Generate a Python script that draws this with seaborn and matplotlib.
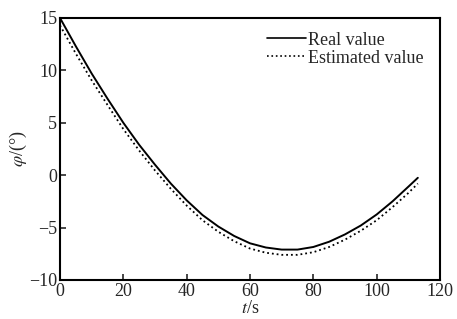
import numpy as np
import pandas as pd
import matplotlib
matplotlib.use('Agg')
import matplotlib.pyplot as plt
import seaborn as sns

t = [0, 5, 10, 15, 20, 25, 30, 35, 40, 45, 50, 55, 60, 65, 70, 75,
     80, 85, 90, 95, 100, 105, 110, 113]
real = [15, 12.3, 9.7, 7.3, 5.0, 2.9, 1.0, -0.8, -2.4, -3.8, -4.9, -5.8,
        -6.5, -6.9, -7.1, -7.1, -6.85, -6.35, -5.65, -4.8, -3.75, -2.5, -1.1, -0.25]
est = [14.3, 11.6, 9.05, 6.7, 4.4, 2.35, 0.45, -1.3, -2.9, -4.3, -5.4, -6.3,
       -7.0, -7.4, -7.6, -7.6, -7.35, -6.85, -6.15, -5.3, -4.3, -3.05, -1.7, -0.8]

df = pd.DataFrame({'t': t * 2,
                   'phi': real + est,
                   'kind': ['Real value'] * len(t) + ['Estimated value'] * len(t)})

sns.set_style('ticks')
plt.rcParams['font.family'] = ['Liberation Serif', 'DejaVu Serif']
plt.rcParams['mathtext.fontset'] = 'stix'

fig = plt.figure(figsize=(4.57, 3.19), dpi=100)
ax = fig.add_axes([0.1313, 0.1223, 0.8315, 0.8213])

sns.lineplot(data=df, x='t', y='phi', hue='kind', style='kind',
             palette=['black', 'black'], dashes=[(None, None), (1, 0.6)],
             linewidth=1.4, ax=ax)
ax.lines[1].set_linestyle(':')
ax.lines[1].set_linewidth(1.3)

ax.set_xlim(0, 120)
ax.set_ylim(-10, 15)
ax.set_xticks([0, 20, 40, 60, 80, 100, 120])
ax.set_yticks([-10, -5, 0, 5, 10, 15])
ax.set_yticklabels(['\u221210', '\u22125', '0', '5', '10', '15'])
ax.tick_params(direction='in', length=4, width=1.2, labelsize=13, pad=2,
               top=False, right=False)
for s in ax.spines.values():
    s.set_linewidth(1.5)
    s.set_color('black')

ax.set_xlabel('$t$/s', fontsize=13, labelpad=0)
ax.set_ylabel('$\\varphi$/(°)', fontsize=13, labelpad=0)

leg = ax.legend(frameon=False, loc='upper right', fontsize=13,
                handlelength=2.2, handletextpad=0.1, labelspacing=0.05,
                bbox_to_anchor=(1.0, 1.01))
for h in leg.get_lines():
    h.set_linewidth(1.2)
leg.get_lines()[1].set_linestyle(':')

fig.savefig('out.png', dpi=100)
